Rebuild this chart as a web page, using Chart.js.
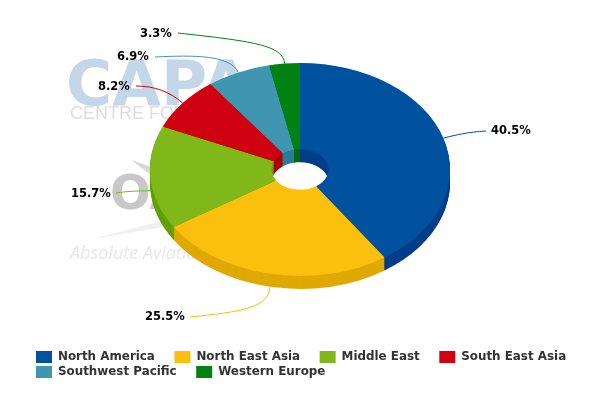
<!DOCTYPE html>
<html>
<head>
<meta charset="utf-8">
<style>
    html, body { margin: 0; padding: 0; background: #fff; }
    canvas { display: block; }
</style>
<script src="https://cdn.jsdelivr.net/npm/chart.js@4/dist/chart.umd.min.js"></script>
</head>
<body>
<canvas id="chart1" width="600" height="400"></canvas>
<script>
const regions = ["North America", "North East Asia", "Middle East", "South East Asia", "Southwest Pacific", "Western Europe"]
const shares = [40.5, 25.5, 15.7, 8.2, 6.9, 3.3]
const topColors = ["#00519e", "#fbbf0e", "#80b81a", "#cf000f", "#3f96b0", "#008111"]
const sideColors = ["#003d8a", "#e0a800", "#62a000", "#a80000", "#2a7d95", "#006a0a"]

const tilt = 0.71
const depth = 13

// label box and curve handles for each leader line
const leaders = [
    { text: [491, 131], from: [486, 131], c1: [468, 132], c2: [456, 135], lower: false },
    { text: [145, 317], from: [190, 317], c1: [240, 312], c2: [269, 308], lower: true },
    { text: [71, 194], from: [116, 193], c1: [128, 191], c2: [140, 191], lower: true },
    { text: [98, 87], from: [136, 86], c1: [155, 86], c2: [170, 92], lower: false },
    { text: [117, 57], from: [155, 57], c1: [195, 55], c2: [230, 55], lower: false },
    { text: [140, 34], from: [178, 33], c1: [250, 41], c2: [284, 45], lower: false },
]

const watermark = {
    id: "watermark",
    beforeDraw(chart) {
        const ctx = chart.ctx
        ctx.save()
        ctx.textBaseline = "alphabetic"
        ctx.fillStyle = "#c3d7e9"
        ctx.font = "bold 63px 'DejaVu Sans'"
        ctx.fillText("CAPA", 66, 105)
        ctx.fillStyle = "#dedede"
        ctx.font = "18px 'Liberation Sans'"
        ctx.fillText("CENTRE FOR AVIATION", 70, 119)
        ctx.fillStyle = "#d8d8d8"
        ctx.beginPath()
        ctx.moveTo(131, 160)
        ctx.lineTo(155, 178)
        ctx.lineTo(155, 168)
        ctx.fill()
        ctx.fillStyle = "#c8c8c8"
        ctx.font = "bold 48px 'DejaVu Sans'"
        ctx.fillText("OAG", 110, 209)
        ctx.fillStyle = "#e8e8e8"
        ctx.font = "italic 18px 'Open Sans'"
        ctx.fillText("Absolute Aviation", 70, 259)
        ctx.fillStyle = "#f0f0f0"
        ctx.beginPath()
        ctx.moveTo(92, 239)
        ctx.lineTo(170, 219)
        ctx.lineTo(170, 226)
        ctx.fill()
        ctx.restore()
    }
}

function squash(ctx, arc, drop) {
    ctx.translate(arc.x, arc.y + drop)
    ctx.scale(1, tilt)
    ctx.translate(-arc.x, -arc.y)
}

const tiltedPie = {
    id: "tiltedPie",
    beforeDatasetDraw(chart, args) {
        const ctx = chart.ctx
        const arcs = args.meta.data
        for (let d = depth; d >= 1; d--) {
            ctx.save()
            squash(ctx, arcs[0], d)
            arcs.forEach((arc, i) => {
                const side = Object.create(arc, {
                    options: { value: Object.create(arc.options, { backgroundColor: { value: sideColors[i] } }) }
                })
                arc.draw.call(side, ctx)
            })
            ctx.restore()
        }
        ctx.save()
        squash(ctx, arcs[0], 0)
    },
    afterDatasetDraw(chart) {
        chart.ctx.restore()
    }
}

const sliceLabels = {
    id: "sliceLabels",
    afterDatasetsDraw(chart) {
        const ctx = chart.ctx
        const arcs = chart.getDatasetMeta(0).data
        ctx.save()
        ctx.lineWidth = 1
        arcs.forEach((arc, i) => {
            const mid = (arc.startAngle + arc.endAngle) / 2
            const l = leaders[i]
            const ax = arc.x + arc.outerRadius * Math.cos(mid)
            const ay = arc.y + arc.outerRadius * tilt * Math.sin(mid) + (l.lower ? depth : 0)
            ctx.strokeStyle = topColors[i]
            ctx.beginPath()
            ctx.moveTo(l.from[0], l.from[1])
            ctx.bezierCurveTo(l.c1[0], l.c1[1], l.c2[0], l.c2[1], ax, ay)
            ctx.stroke()
            ctx.fillStyle = "#000"
            ctx.font = "bold 11.5px 'DejaVu Sans'"
            ctx.textBaseline = "middle"
            ctx.fillText(shares[i].toFixed(1) + "%", l.text[0], l.text[1])
        })
        ctx.restore()
    }
}

// pie keeps its 300px box, only the legend moves
const legendShift = {
    id: "legendShift",
    afterLayout(chart) {
        chart.legend.left += 28
        chart.legend.top += 28.5
        chart.legend.bottom += 28.5
    }
}

new Chart(document.getElementById("chart1").getContext("2d"), {
    type: "doughnut",
    data: {
        labels: regions,
        datasets: [{
            data: shares,
            backgroundColor: topColors,
            borderWidth: 0
        }]
    },
    options: {
        responsive: false,
        animation: false,
        cutout: "19%",
        layout: { padding: { top: 19.5, left: 5, right: 5, bottom: 40.5 } },
        plugins: {
            tooltip: { enabled: false },
            legend: {
                position: "bottom",
                align: "start",
                labels: {
                    boxWidth: 16,
                    boxHeight: 12,
                    padding: 3,
                    color: "#333333",
                    font: { family: "'DejaVu Sans'", weight: "bold", size: 11.9 },
                    generateLabels(chart) {
                        // extra gap between items, rows stay tight
                        return Chart.overrides.doughnut.plugins.legend.labels.generateLabels(chart).map((item, i) => {
                            item.text = regions[i] + "    "
                            item.lineWidth = 0
                            return item
                        })
                    }
                }
            }
        }
    },
    plugins: [watermark, tiltedPie, sliceLabels, legendShift]
})
</script>
</body>
</html>
